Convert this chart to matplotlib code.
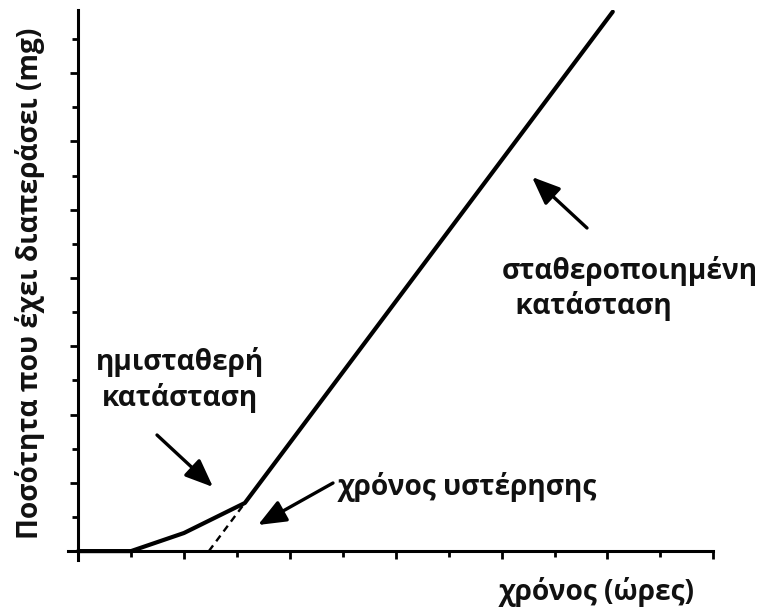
import matplotlib
matplotlib.use("Agg")
import matplotlib.pyplot as plt

plt.rcParams['font.family'] = ['Open Sans', 'DejaVu Sans']

# Καμπύλη διαπέρασης: χρόνος σε υποδιαιρέσεις άξονα, ποσότητα σε υποδιαιρέσεις άξονα
time = [0, 1, 2, 3.15, 10.1]
amount = [0, 0, 0.53, 1.41, 15.8]

# Προέκταση της ευθείας μέχρι τον άξονα του χρόνου (χρόνος υστέρησης)
lag_time = [2.47, 3.15]
lag_amount = [0, 1.41]

x_ticks = list(range(0, 13))
y_ticks = list(range(0, 16))

fig = plt.figure(figsize=(7.61, 6.10), dpi=100)
ax = fig.add_axes([0.0894, 0.082, 0.848, 0.9016])

ax.plot(time, amount, color='black', lw=3.0, solid_capstyle='round')
ax.plot(lag_time, lag_amount, color='black', lw=1.7, ls=(0, (3, 2.2)))

ax.set_xlim(-0.19, 12.0)
ax.set_ylim(-0.26, 15.85)

for side in ['top', 'right']:
    ax.spines[side].set_visible(False)
ax.spines['left'].set_position(('data', 0))
ax.spines['bottom'].set_position(('data', 0))
ax.spines['left'].set_linewidth(2.2)
ax.spines['bottom'].set_linewidth(2.2)

ax.set_xticks([t for t in x_ticks if t % 2 == 0])
ax.set_xticks([t for t in x_ticks if t % 2 == 1], minor=True)
ax.set_yticks([t for t in y_ticks if t % 2 == 0])
ax.set_yticks([t for t in y_ticks if t % 2 == 1], minor=True)
ax.tick_params(which='major', direction='out', length=6, width=2, labelbottom=False, labelleft=False)
ax.tick_params(which='minor', direction='out', length=4, width=2)

txt = dict(fontsize=20.2, fontweight='bold', color='#111111')
arrow = dict(arrowstyle='-|>,head_length=0.85,head_width=0.35', color='black', lw=2.4,
             shrinkA=0, shrinkB=0, mutation_scale=20)

fig.text(0.040, 0.536, 'Ποσότητα που έχει διαπεράσει (mg)', rotation=90,
         ha='center', va='center', **txt)
fig.text(0.913, 0.0295, 'χρόνος (ώρες)', ha='right', va='center', **txt)

fig.text(0.2365, 0.377, 'ημισταθερή\nκατάσταση', ha='center', va='center',
         linespacing=1.25, **txt)
fig.text(0.659, 0.527, 'σταθεροποιημένη\n  κατάσταση', ha='left', va='center',
         linespacing=1.25, **txt)
fig.text(0.444, 0.2016, 'χρόνος υστέρησης', ha='left', va='center', **txt)

# βέλη (συντεταγμένες σε pixels του σχήματος)
for tail, head in [((157, 175), (213, 123)),
                   ((587, 382), (532, 433)),
                   ((333, 127), (258, 85))]:
    ax.annotate('', xy=head, xycoords='figure pixels', xytext=tail,
                textcoords='figure pixels', arrowprops=arrow)

fig.savefig('out.png', dpi=100)
